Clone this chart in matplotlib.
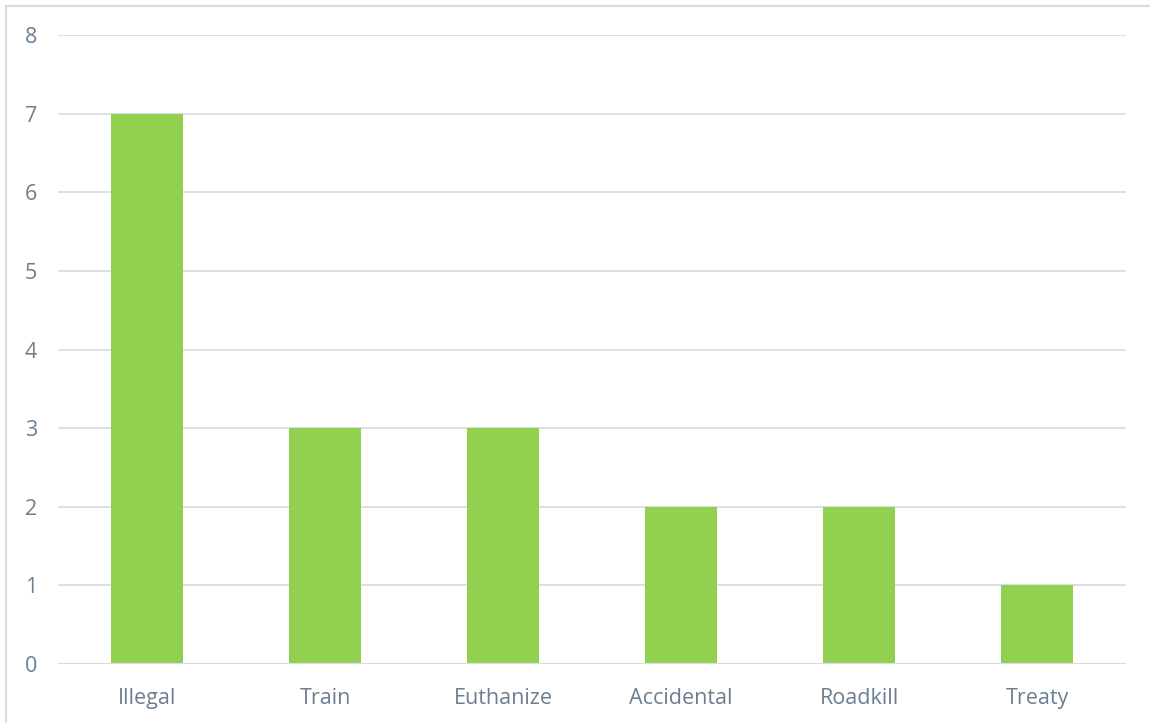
import matplotlib
matplotlib.use("Agg")
import matplotlib.pyplot as plt
from matplotlib.lines import Line2D

categories = ["Illegal", "Train", "Euthanize", "Accidental", "Roadkill", "Treaty"]
counts = [7, 3, 3, 2, 2, 1]
y_ticks = [0, 1, 2, 3, 4, 5, 6, 7, 8]

W, H = 1150, 723
fig = plt.figure(figsize=(W / 100, H / 100), dpi=100)
fig.patch.set_facecolor("white")

text_color = "#6b7f91"
grid_color = "#d9dde2"
bar_color = "#92d050"

left, right = 58 / W, 1126 / W
bottom, top = 1 - 664 / H, 1 - 35 / H
ax = fig.add_axes([left, bottom, right - left, top - bottom])

x = list(range(len(categories)))
ax.bar(x, counts, width=0.4, color=bar_color, zorder=3)

ax.set_xlim(-0.5, len(categories) - 0.5)
ax.set_ylim(0, 8)
ax.set_yticks(y_ticks)
ax.set_xticks(x)
ax.set_xticklabels(categories)

for s in ax.spines.values():
    s.set_visible(False)
ax.grid(axis="y", color=grid_color, linewidth=1.3, zorder=0)
ax.axhline(0, color=grid_color, linewidth=1.6, zorder=4)

ax.tick_params(axis="both", length=0, labelsize=15.5, colors=text_color,
               labelfontfamily="Open Sans")
ax.tick_params(axis="y", pad=15)
ax.tick_params(axis="x", pad=17)

# Chart frame: top and left edges
fig.add_artist(Line2D([6 / W, 1.0], [1 - 6 / H, 1 - 6 / H], transform=fig.transFigure,
                      color=grid_color, linewidth=1.5))
fig.add_artist(Line2D([6 / W, 6 / W], [0, 1 - 6 / H], transform=fig.transFigure,
                      color=grid_color, linewidth=1.5))

fig.savefig("out.png", dpi=100, facecolor="white")
